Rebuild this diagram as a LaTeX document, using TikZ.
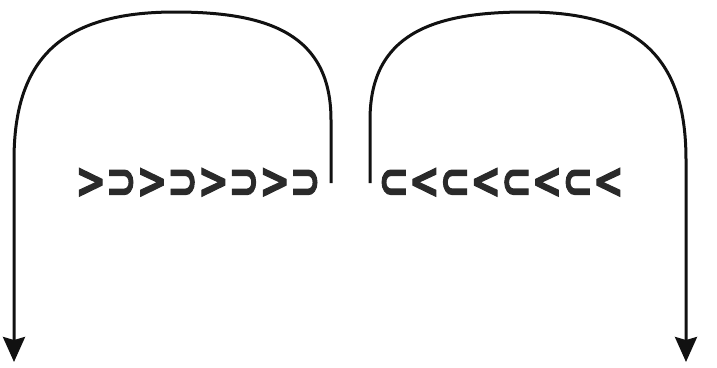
\documentclass[tikz,border=0pt]{standalone}
\usepackage{fontspec}
\setmainfont{DejaVu Sans}
\newfontfamily\glyphfont[FakeBold=2.5]{DejaVu Sans Bold}
\usetikzlibrary{arrows.meta}
\definecolor{ink}{HTML}{111111}
\definecolor{txt}{HTML}{2A2A2A}
\begin{document}
\begin{tikzpicture}[x=1pt,y=-1pt,
  curve/.style={draw=ink,line width=3pt,-{Stealth[length=25pt,width=22pt,inset=3pt]}},
  glyphs/.style={text=txt,font=\glyphfont\fontsize{30}{30}\selectfont,inner sep=0pt,anchor=center}]
\useasboundingbox (0,0) rectangle (717,367);
\node[glyphs] (lt) at (198,183) {\scalebox{1.22}[1.65]{>⊃>⊃>⊃>⊃}};
\node[glyphs] (rt) at (501,183) {\scalebox{1.22}[1.65]{⊂<⊂<⊂<⊂<}};
\coordinate (ls) at (331,183);
\coordinate (le) at (14,362);
\coordinate (rs) at (370,183);
\coordinate (re) at (686,362);
\draw[curve] (ls) -- (331,120) .. controls (331,35) and (270,12) .. (175,12)
  .. controls (60,12) and (14,60) .. (14,160) -- (le);
\draw[curve] (rs) -- (370,120) .. controls (370,35) and (431,12) .. (526,12)
  .. controls (641,12) and (686,60) .. (686,160) -- (re);
\end{tikzpicture}
\end{document}
